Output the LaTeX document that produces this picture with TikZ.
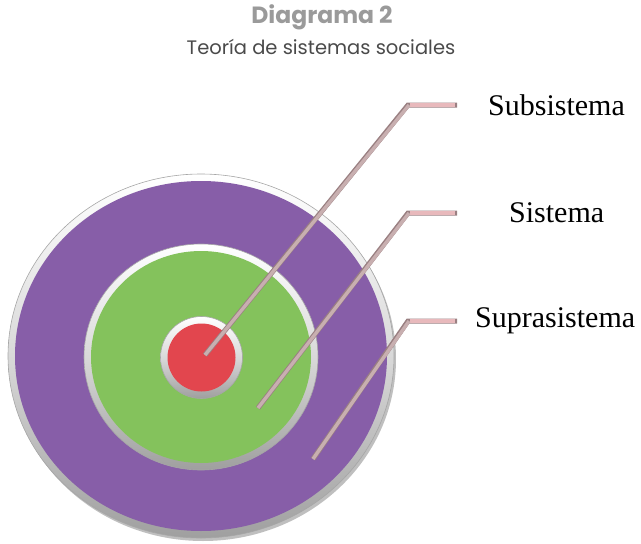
\documentclass[tikz,border=0pt]{standalone}
\usepackage{fontspec}
\setmainfont{Liberation Serif}
\newfontfamily\titlefont{Poppins}
\definecolor{purp}{HTML}{875EA8}
\definecolor{grn}{HTML}{84C25C}
\definecolor{redc}{HTML}{E2464E}
\definecolor{rod}{HTML}{C8AFB0}
\definecolor{rodh}{HTML}{E8B9BC}
\definecolor{rodedge}{HTML}{9A8082}
\definecolor{titlegray}{HTML}{9A9A9A}
\definecolor{subgray}{HTML}{4A4A4A}
\tikzset{
  ringshade/.style={top color=white, bottom color=gray!75, middle color=gray!30, draw=gray!70, line width=0.6pt},
  rodout/.style={draw=rodedge, line width=5pt, line cap=butt, line join=miter},
  rodin/.style={draw=rod, line width=3.4pt, line cap=butt, line join=miter},
  rodhin/.style={draw=rodh, line width=3.4pt, line cap=butt},
  lbl/.style={font=\fontsize{30}{32}\selectfont, anchor=west, inner sep=0pt},
}
\begin{document}
\begin{tikzpicture}[x=1pt,y=-1pt]
\useasboundingbox (0,0) rectangle (641,544);
% title
\node[font=\titlefont\bfseries\fontsize{23.5}{26}\selectfont, text=titlegray] (title) at (322,17) {Diagrama 2};
\node[font=\titlefont\fontsize{19.5}{22}\selectfont, text=subgray] (subtitle) at (321,47) {Teoría de sistemas sociales};
% target
\fill[black!25] (203,359) ellipse [x radius=193, y radius=182];
\shade[ringshade] (201,356) ellipse [x radius=193, y radius=182];
\fill[purp] (201,356) ellipse [x radius=186, y radius=175];
\shade[ringshade] (201,357) ellipse [x radius=117, y radius=113];
\fill[grn] (201,357) ellipse [x radius=110, y radius=106];
\shade[ringshade] (201.5,357.5) circle [radius=41];
\fill[redc] (201.5,357.5) circle [radius=34];
% labels
\node[lbl] (sub) at (488,105) {Subsistema};
\node[lbl] (sis) at (509,213) {Sistema};
\node[lbl] (sup) at (475,321) {Suprasistema};
% pointer geometry
\coordinate (p1) at (205,355);
\coordinate (e1) at (408,105);
\coordinate (t1) at (457,105);
\coordinate (p2) at (258,408);
\coordinate (e2) at (408,213);
\coordinate (t2) at (457,213);
\coordinate (p3) at (313,459);
\coordinate (e3) at (408,321);
\coordinate (t3) at (457,321);
\foreach \i in {1,2,3}{
  \draw[rodout] (p\i) -- (e\i) -- (t\i);
  \draw[rodhin] ([xshift=2pt]e\i) -- ([xshift=-2pt]t\i);
  \draw[rodin] (p\i) -- ([xshift=1pt]e\i);
}
\end{tikzpicture}
\end{document}
